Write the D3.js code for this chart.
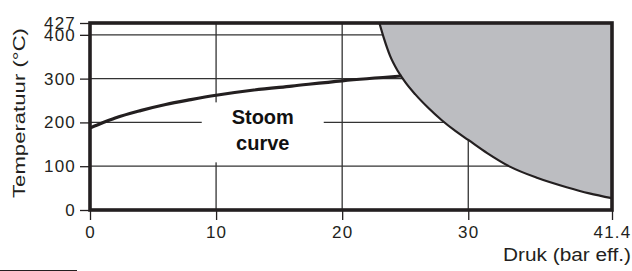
<!DOCTYPE html>
<html>
<head>
<meta charset="utf-8">
<script src="https://cdn.jsdelivr.net/npm/d3@7"></script>
<style>
  body { margin: 0; background: #fff; }
  svg { display: block; font-family: "Liberation Sans", Arial, sans-serif; }
  .tick line { stroke: #231f20; stroke-width: 1.3; }
</style>
</head>
<body>
<svg id="chart" width="632" height="271"></svg>
<script>
// axis ticks
const pressureTicks = [0, 10, 20, 30, 41.4];
const tempTicks = [0, 100, 200, 300, 400, 427];
const gridPressure = [10, 20, 30];
const gridTemp = [100, 200, 300, 400];

// steam curve (bar eff. -> °C)
const steamPressure = [0, 1, 2, 4, 6, 8, 10, 13, 16, 20, 24.7];
const steamTemp = [187, 199, 210, 227, 241, 252, 262, 274, 283, 295, 306];

// boundary of the grey area
const limitPressure = [22.95, 23.3, 23.8, 24.4, 25.0, 25.8, 26.8, 27.9, 29.0, 30.0, 31.5, 33.3, 35.5, 37.8, 39.6, 41.4];
const limitTemp = [427, 393, 352, 318, 292, 264, 234, 205, 180, 160, 130, 99, 73, 52, 38, 27];

const labelLines = ["Stoom", "curve"];
const labelAt = [13.7, 175];

const width = 632;
const height = 271;
const margin = { top: 23, right: 20, bottom: 61, left: 90 };
const innerWidth = width - margin.left - margin.right;
const innerHeight = height - margin.top - margin.bottom;
const ink = "#231f20";

const svg = d3.select("#chart");
const g = svg.append("g").attr("transform", `translate(${margin.left},${margin.top})`);

const xScale = d3.scaleLinear().domain([0, 41.4]).range([0, innerWidth]);
const yScale = d3.scaleLinear().domain([0, 427]).range([innerHeight, 0]);

const steam = steamPressure.map((p, i) => ({ p, t: steamTemp[i] }));
const limit = limitPressure.map((p, i) => ({ p, t: limitTemp[i] }));

//grid lines
g.selectAll(".grid-h")
  .data(gridTemp)
  .enter()
  .append("line")
  .attr("class", "grid-h")
  .attr("x1", 0)
  .attr("x2", innerWidth)
  .attr("y1", (d) => yScale(d))
  .attr("y2", (d) => yScale(d))
  .attr("stroke", "#333")
  .attr("stroke-width", 1.3);

g.selectAll(".grid-v")
  .data(gridPressure)
  .enter()
  .append("line")
  .attr("class", "grid-v")
  .attr("y1", 0)
  .attr("y2", innerHeight)
  .attr("x1", (d) => xScale(d))
  .attr("x2", (d) => xScale(d))
  .attr("stroke", "#333")
  .attr("stroke-width", 1.3);

//white box behind the label
const lx = xScale(labelAt[0]);
const ly = yScale(labelAt[1]);
g.append("rect")
  .attr("x", lx - 61)
  .attr("y", ly - 31)
  .attr("width", 122)
  .attr("height", 60)
  .attr("fill", "#fff");

g.append("g")
  .selectAll("text")
  .data(labelLines)
  .enter()
  .append("text")
  .attr("x", lx)
  .attr("y", (d, i) => ly - 9.5 + i * 26)
  .attr("text-anchor", "middle")
  .attr("font-size", 20)
  .attr("font-weight", "bold")
  .attr("fill", "#111")
  .text((d) => d);

//grey area
const area = d3
  .area()
  .x((d) => xScale(d.p))
  .y0((d) => yScale(d.t))
  .y1(yScale(427))
  .curve(d3.curveMonotoneX);

g.append("path")
  .datum(limit)
  .attr("d", area)
  .attr("fill", "#bcbdc1");

const lineGenerator = d3
  .line()
  .x((d) => xScale(d.p))
  .y((d) => yScale(d.t))
  .curve(d3.curveMonotoneX);

g.append("path")
  .datum(limit)
  .attr("d", lineGenerator)
  .attr("fill", "none")
  .attr("stroke", ink)
  .attr("stroke-width", 2.2);

g.append("path")
  .datum(steam)
  .attr("d", lineGenerator)
  .attr("fill", "none")
  .attr("stroke", ink)
  .attr("stroke-width", 3.2);

//axes
const xAxis = d3
  .axisBottom(xScale)
  .tickValues(pressureTicks)
  .tickSize(10)
  .tickPadding(6)
  .tickFormat((d) => d);

const yAxis = d3
  .axisLeft(yScale)
  .tickValues(tempTicks)
  .tickSize(10)
  .tickPadding(4)
  .tickFormat((d) => d);

const xAxisG = g
  .append("g")
  .attr("class", "x-axis")
  .attr("transform", `translate(0,${innerHeight})`)
  .call(xAxis);
xAxisG.select(".domain").remove();

const yAxisG = g.append("g").attr("class", "y-axis").call(yAxis);
yAxisG.select(".domain").remove();

[xAxisG, yAxisG].forEach((axisG) =>
  axisG
    .attr("font-family", null)
    .attr("font-size", null)
    .selectAll(".tick text")
    .style("font-family", '"Liberation Sans", Arial, sans-serif')
    .style("font-size", "17px")
    .style("letter-spacing", "1.2px")
    .attr("fill", ink)
);

//thick frame
g.append("rect")
  .attr("x", 0)
  .attr("y", 0)
  .attr("width", innerWidth)
  .attr("height", innerHeight)
  .attr("fill", "none")
  .attr("stroke", ink)
  .attr("stroke-width", 3.6);

//axis titles
svg.append("text")
  .attr("transform", "translate(25,198) rotate(-90)")
  .attr("font-size", 17)
  .attr("fill", ink)
  .attr("textLength", 170)
  .attr("lengthAdjust", "spacingAndGlyphs")
  .text("Temperatuur (°C)");

svg.append("text")
  .attr("x", 503)
  .attr("y", 261)
  .attr("font-size", 17.5)
  .attr("fill", ink)
  .attr("textLength", 128)
  .attr("lengthAdjust", "spacingAndGlyphs")
  .text("Druk (bar eff.)");

//small rule at the bottom left
svg.append("line")
  .attr("x1", 0)
  .attr("x2", 77)
  .attr("y1", 270.5)
  .attr("y2", 270.5)
  .attr("stroke", ink)
  .attr("stroke-width", 1.2);
</script>
</body>
</html>
